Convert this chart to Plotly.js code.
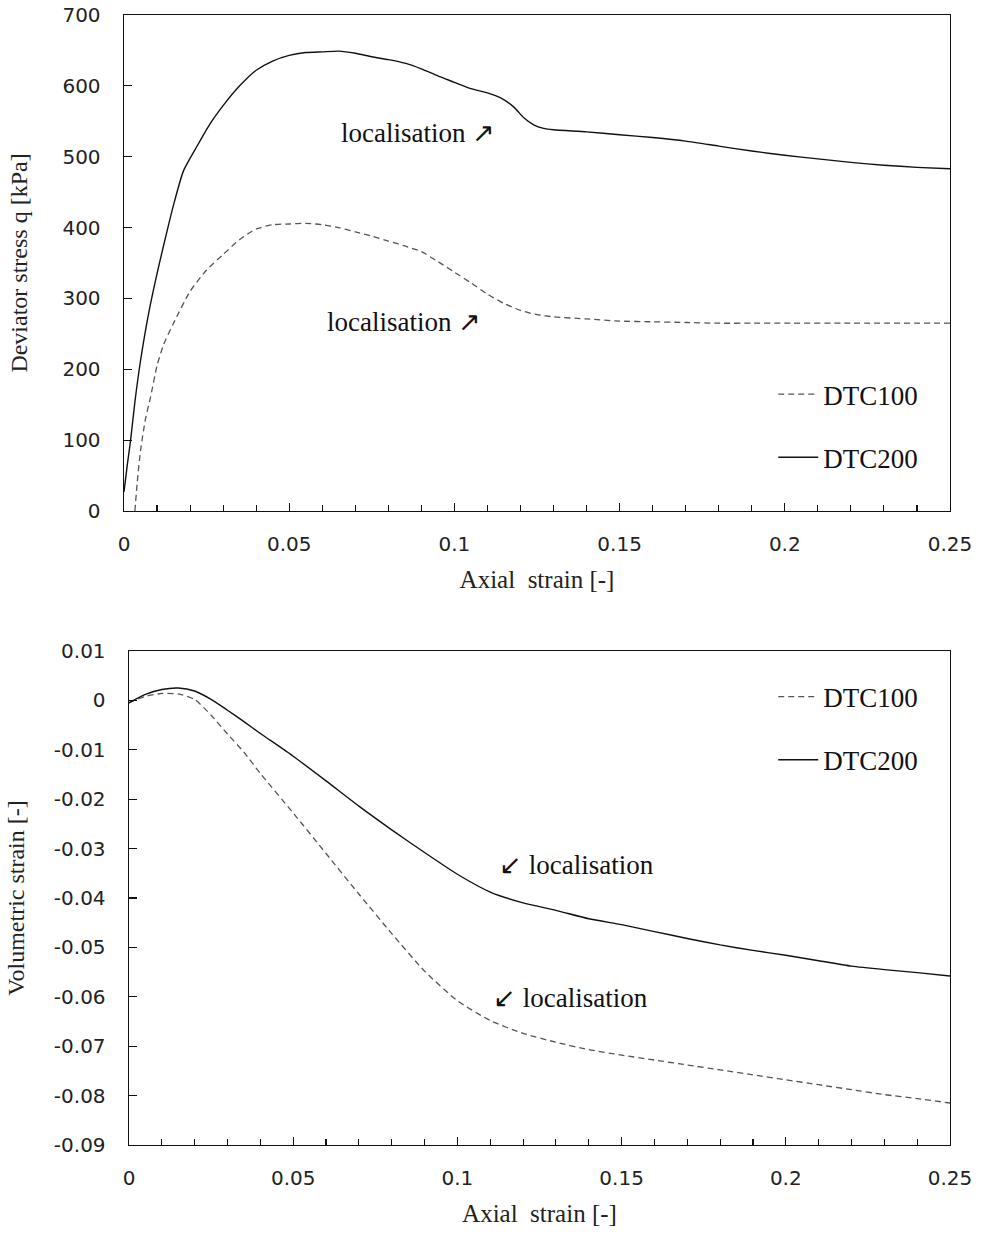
<!DOCTYPE html>
<html><head><meta charset="utf-8">
<script src="https://cdn.plot.ly/plotly-3.0.1.min.js"></script>
<style>body{margin:0;background:#fff}#chart{width:982px;height:1236px}</style>
</head><body><div id="chart"></div>
<script>
// Top panel: deviator stress vs axial strain
const qStrain100 = [0.0033,0.004,0.005,0.0065,0.008,0.010,0.012,0.015,0.020,0.025,0.030,0.035,0.040,0.045,0.050,0.055,0.060,0.065,0.070,0.075,0.080,0.085,0.090,0.095,0.100,0.105,0.110,0.115,0.120,0.125,0.130,0.140,0.150,0.160,0.170,0.180,0.190,0.200,0.220,0.250];
const qDTC100 = [0,40,85,130,160,205,235,265,310,340,362,383,398,404,405,406,404,400,394,388,381,374,366,352,337,322,306,293,283,277,274,271,268,267,266,265,265,265,265,265];
const qStrain200 = [0,0.001,0.002,0.0033,0.005,0.0075,0.010,0.012,0.015,0.018,0.022,0.026,0.030,0.035,0.040,0.045,0.050,0.055,0.060,0.065,0.070,0.075,0.080,0.085,0.090,0.095,0.100,0.105,0.110,0.114,0.118,0.121,0.124,0.127,0.130,0.140,0.150,0.160,0.170,0.180,0.190,0.200,0.210,0.220,0.230,0.240,0.250];
const qDTC200 = [27,65,100,154,212,280,335,375,432,480,514,546,572,600,622,635,643,647,648,649,646,641,637,632,624,614,605,596,590,583,570,555,545,540,538,535,531,527,522,515,508,502,497,492,488,485,483];

// Bottom panel: volumetric strain vs axial strain
const vStrain = [0,0.005,0.010,0.015,0.020,0.025,0.030,0.035,0.040,0.050,0.060,0.070,0.080,0.090,0.100,0.110,0.120,0.130,0.140,0.150,0.160,0.170,0.180,0.190,0.200,0.210,0.220,0.230,0.240,0.250];
const vDTC100 = [-0.0005,0.0008,0.0014,0.0013,0.0002,-0.003,-0.0068,-0.0105,-0.0148,-0.0228,-0.031,-0.0392,-0.0472,-0.0548,-0.0608,-0.0648,-0.0674,-0.0692,-0.0707,-0.0718,-0.0728,-0.0738,-0.0748,-0.0758,-0.0768,-0.0778,-0.0788,-0.0798,-0.0806,-0.0815];
const vDTC200 = [-0.0005,0.0012,0.0022,0.0025,0.0019,0.0002,-0.0020,-0.0043,-0.0067,-0.0113,-0.0163,-0.0214,-0.0262,-0.0308,-0.0352,-0.0388,-0.0410,-0.0425,-0.0442,-0.0454,-0.0468,-0.0482,-0.0495,-0.0506,-0.0516,-0.0527,-0.0538,-0.0545,-0.0551,-0.0558];

const seriesNames = ['DTC100','DTC200'];
const xTicks = [0,0.05,0.1,0.15,0.2,0.25];
const qTicks = [0,100,200,300,400,500,600,700];
const vTicks = [0.01,0,-0.01,-0.02,-0.03,-0.04,-0.05,-0.06,-0.07,-0.08,-0.09];
const locLabel = 'localisation';

const serif = 'Liberation Serif, Times New Roman, serif';
const sans = 'DejaVu Sans, sans-serif';
const dashStyle = {color:'#555', width:1.3, dash:'6px,4px'};
const solidStyle = {color:'#111', width:1.4};

const traces = [
  {x:qStrain100, y:qDTC100, name:seriesNames[0], mode:'lines', line:Object.assign({}, dashStyle), xaxis:'x', yaxis:'y', legend:'legend', legendgroup:'a1'},
  {x:qStrain200, y:qDTC200, name:seriesNames[1], mode:'lines', line:Object.assign({}, solidStyle), xaxis:'x', yaxis:'y', legend:'legend', legendgroup:'a2'},
  {x:vStrain, y:vDTC100, name:seriesNames[0], mode:'lines', line:Object.assign({}, dashStyle), xaxis:'x2', yaxis:'y2', legend:'legend2', legendgroup:'b1'},
  {x:vStrain, y:vDTC200, name:seriesNames[1], mode:'lines', line:Object.assign({}, solidStyle), xaxis:'x2', yaxis:'y2', legend:'legend2', legendgroup:'b2'}
];
traces.forEach(t=>{t.line.shape='spline'; t.line.smoothing=0.6;});

const xAxisBase = {
  range:[0,0.25], tickvals:xTicks, ticktext:xTicks.map(String),
  ticks:'inside', ticklen:8, tickwidth:1.2, tickcolor:'#111',
  minor:{dtick:0.01, ticks:'inside', ticklen:6, tickwidth:1.1, tickcolor:'#111', showgrid:false},
  showline:true, linecolor:'#111', linewidth:1.4, mirror:true, showgrid:false, zeroline:false,
  tickfont:{family:sans, size:20, color:'#222'}, ticklabelstandoff:15,
  title:{text:'Axial  strain [-]', font:{family:serif, size:25, color:'#222'}, standoff:15},
  automargin:false
};
const yAxisBase = {
  ticks:'inside', ticklen:8, tickwidth:1.2, tickcolor:'#111',
  showline:true, linecolor:'#111', linewidth:1.4, mirror:true, showgrid:false, zeroline:false,
  tickfont:{family:sans, size:20, color:'#222'}, ticklabelstandoff:18, automargin:false
};

const layout = {
  width:982, height:1236,
  margin:{l:124, r:32, t:15, b:91},
  paper_bgcolor:'#fff', plot_bgcolor:'#fff',
  showlegend:true,
  xaxis: Object.assign({}, xAxisBase, {domain:[0,1], anchor:'y'}),
  yaxis: Object.assign({}, yAxisBase, {domain:[0.5611,1], anchor:'x', range:[0,700], tickvals:qTicks,
    title:{text:'Deviator stress q [kPa]', font:{family:serif, size:24, color:'#222'}, standoff:28}}),
  xaxis2: Object.assign({}, xAxisBase, {domain:[0.00605,1], anchor:'y2'}),
  yaxis2: Object.assign({}, yAxisBase, {domain:[0,0.4372], anchor:'x2', range:[-0.09,0.01], tickvals:vTicks,
    ticktext:vTicks.map(v=>String(v)),
    title:{text:'Volumetric strain [-]', font:{family:serif, size:24, color:'#222'}, standoff:22}}),
  legend:{x:0.786, y:0.6857, xanchor:'left', yanchor:'top', bgcolor:'rgba(0,0,0,0)', borderwidth:0,
    font:{family:serif, size:27, color:'#111'}, tracegroupgap:25, itemwidth:40},
  legend2:{x:0.786, y:0.418, xanchor:'left', yanchor:'top', bgcolor:'rgba(0,0,0,0)', borderwidth:0,
    font:{family:serif, size:27, color:'#111'}, tracegroupgap:25, itemwidth:40},
  annotations:[
    {xref:'x', yref:'y', x:0.089, y:533, text:locLabel+' ↗', showarrow:false, font:{family:serif, size:27, color:'#111'}},
    {xref:'x', yref:'y', x:0.0847, y:266, text:locLabel+' ↗', showarrow:false, font:{family:serif, size:27, color:'#111'}},
    {xref:'x2', yref:'y2', x:0.1364, y:-0.0334, text:'↙ '+locLabel, showarrow:false, font:{family:serif, size:27, color:'#111'}},
    {xref:'x2', yref:'y2', x:0.1343, y:-0.0603, text:'↙ '+locLabel, showarrow:false, font:{family:serif, size:27, color:'#111'}}
  ]
};
Plotly.newPlot('chart', traces, layout, {displayModeBar:false, staticPlot:true});
</script>
</body></html>
